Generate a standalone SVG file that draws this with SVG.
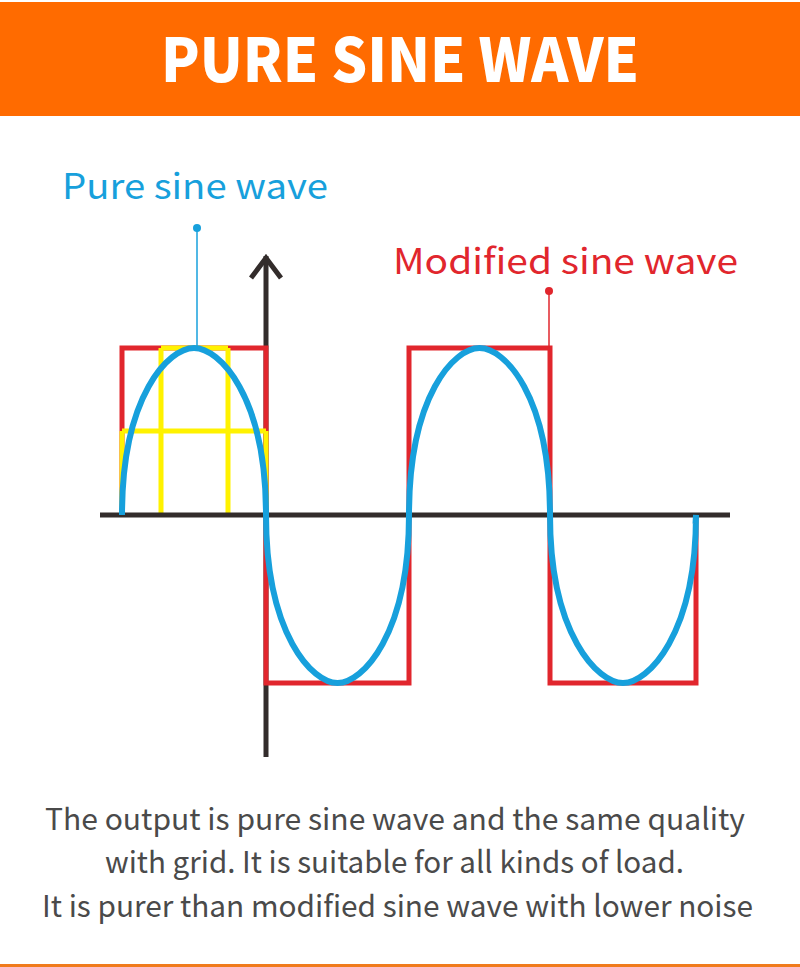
<svg xmlns="http://www.w3.org/2000/svg" width="800" height="967" viewBox="0 0 800 967">
<style>
.title{font-family:"Noto Sans CJK SC","Noto Sans",sans-serif;font-weight:900;font-size:60px;fill:#ffffff}
.lbl{font-family:"Noto Sans CJK SC","Noto Sans",sans-serif;font-size:35px;font-weight:400}
.body{font-family:"Noto Sans CJK SC","Noto Sans",sans-serif;font-size:30px;fill:#4a4a4a}
.axis{stroke:#332c2b;stroke-width:5;fill:none}
.red{stroke:#e1262d;stroke-width:5;fill:none}
.yel{stroke:#fff200;stroke-width:5;fill:none}
.blue{stroke:#17a0dc;stroke-width:6;fill:none}
</style>
<rect x="0" y="0" width="800" height="967" fill="#ffffff"/>
<g id="header">
<rect x="0" y="2" width="800" height="114" fill="#ff6b00"/>
<text class="title" x="400" y="82" text-anchor="middle" textLength="478" lengthAdjust="spacingAndGlyphs">PURE SINE WAVE</text>
</g>
<g id="chart">
<line class="axis" x1="266" y1="256" x2="266" y2="757"/>
<polyline class="axis" points="251,278 266,258 281,278" stroke-linecap="butt"/>
<path class="red" d="M122,515 V348 H266 V683 H409 V348 H550 V683 H696 V515"/>
<g id="grid">
<path class="yel" d="M122,431 H266 M122,431 V515 M266,431 V515 M161,348 V515 M228,348 V515 M161,348 H228"/>
</g>
<line class="axis" x1="100" y1="515" x2="730" y2="515"/>
<path id="sine" class="blue" d="M122,515 C122,395 169,348 194,348 C219,348 266,395 266,515 C266,635 312.5,683 337.5,683 C362.5,683 409,635 409,515 C409,395 454.5,348 479.5,348 C504.5,348 550,395 550,515 C550,635 598,683 623,683 C648,683 696,635 696,515 L695.5,524"/>
</g>
<g id="label-pure">
<text class="lbl" x="62" y="199" fill="#17a0dc" textLength="266" lengthAdjust="spacingAndGlyphs">Pure sine wave</text>
<circle cx="197" cy="228" r="4" fill="#17a0dc"/>
<line x1="197" y1="228" x2="197" y2="348" stroke="#17a0dc" stroke-width="1.5"/>
</g>
<g id="label-modified">
<text class="lbl" x="393" y="274" fill="#e1262d" textLength="345" lengthAdjust="spacingAndGlyphs">Modified sine wave</text>
<circle cx="549" cy="291" r="4" fill="#e1262d"/>
<line x1="549" y1="291" x2="549" y2="348" stroke="#e1262d" stroke-width="1.5"/>
</g>
<g id="description">
<text class="body" x="45" y="830" textLength="700" lengthAdjust="spacingAndGlyphs">The output is pure sine wave and the same quality</text>
<text class="body" x="105" y="873" textLength="579" lengthAdjust="spacingAndGlyphs">with grid. It is suitable for all kinds of load.</text>
<text class="body" x="42" y="917" textLength="711" lengthAdjust="spacingAndGlyphs">It is purer than modified sine wave with lower noise</text>
</g>
<rect x="0" y="964" width="800" height="3" fill="#f07b1c"/>
</svg>
